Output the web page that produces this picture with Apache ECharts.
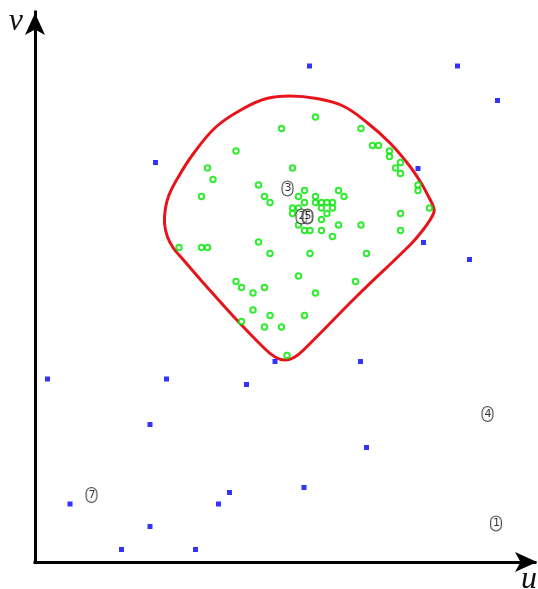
<!DOCTYPE html>
<html>
<head>
<meta charset="utf-8">
<script src="https://cdn.jsdelivr.net/npm/echarts@6/dist/echarts.min.js"></script>
<style>html,body{margin:0;padding:0;background:#fff;}#c{width:538px;height:589px;}</style>
</head>
<body>
<div id="c"></div>
<script>
// Blue square points (u, v)
const bluePoints = [
  [5.49, 9.92], [8.45, 9.92], [9.25, 9.23], [2.41, 7.99], [7.66, 7.87],
  [7.77, 6.39], [8.69, 6.05], [4.80, 4.01], [6.51, 4.01], [0.25, 3.66],
  [2.63, 3.66], [4.23, 3.55], [2.30, 2.75], [6.63, 2.29], [5.38, 1.49],
  [3.89, 1.39], [3.67, 1.16], [0.70, 1.16], [2.30, 0.71], [1.73, 0.25],
  [3.21, 0.25]
];
// Green circle points (u, v)
const greenPoints = [
  [5.61, 8.90], [4.93, 8.67], [6.52, 8.67], [6.75, 8.33], [6.87, 8.33],
  [4.02, 8.22], [7.09, 8.22], [7.09, 8.11], [7.31, 7.99], [3.45, 7.88],
  [5.15, 7.88], [7.21, 7.88], [7.31, 7.77], [3.56, 7.65], [4.47, 7.54],
  [7.66, 7.54], [7.66, 7.43], [5.39, 7.43], [6.07, 7.43], [3.33, 7.31],
  [4.59, 7.31], [5.27, 7.31], [5.61, 7.31], [6.18, 7.31], [4.70, 7.19],
  [5.39, 7.19], [5.61, 7.19], [5.73, 7.19], [5.84, 7.19], [5.95, 7.19],
  [5.15, 7.08], [5.27, 7.08], [5.73, 7.08], [5.95, 7.08], [7.89, 7.08],
  [5.15, 6.97], [5.84, 6.97], [7.31, 6.97], [5.73, 6.85], [5.27, 6.74],
  [6.07, 6.74], [6.52, 6.74], [5.39, 6.63], [5.50, 6.63], [5.73, 6.63],
  [7.31, 6.63], [5.95, 6.51], [2.88, 6.29], [3.33, 6.29], [3.45, 6.29],
  [4.47, 6.40], [4.70, 6.17], [5.50, 6.17], [6.63, 6.17], [5.27, 5.72],
  [4.02, 5.61], [6.41, 5.61], [4.13, 5.49], [4.59, 5.49], [4.36, 5.38],
  [5.61, 5.38], [4.36, 5.04], [4.13, 4.81], [4.70, 4.93], [5.39, 4.93],
  [4.59, 4.70], [4.93, 4.70], [5.04, 4.13]
];
// Closed red boundary curve (u, v), traced clockwise from the top
const boundary = [
  [5.10, 9.32], [5.63, 9.27], [6.16, 9.12], [6.64, 8.79], [7.10, 8.38],
  [7.50, 7.91], [7.74, 7.55], [7.88, 7.29], [7.97, 7.10], [7.98, 7.00],
  [7.90, 6.84], [7.76, 6.64], [7.52, 6.36], [6.43, 5.31], [5.37, 4.24],
  [5.18, 4.09], [5.00, 4.04], [4.80, 4.10], [4.54, 4.32], [3.97, 4.91],
  [3.43, 5.51], [2.97, 6.04], [2.78, 6.26], [2.65, 6.50], [2.59, 6.78],
  [2.61, 7.08], [2.68, 7.34], [2.83, 7.64], [3.17, 8.17], [3.63, 8.71],
  [4.17, 9.07], [4.63, 9.27]
];
// Numbered markers (u, v, label)
const markers = [
  [5.05, 7.47, '3'], [5.33, 6.91, '2'], [5.45, 6.91, '5'],
  [9.05, 2.96, '4'], [9.22, 0.77, '1'], [1.13, 1.34, '7']
];

const chart = echarts.init(document.getElementById('c'), null, {renderer: 'canvas'});
const axisLineStyle = {color: '#000', width: 3, cap: 'square'};
chart.setOption({
  animation: false,
  backgroundColor: '#fff',
  grid: {left: 35, right: 3, top: 12, bottom: 27, containLabel: false, outerBoundsMode: 'none'},
  xAxis: {
    type: 'value', min: 0, max: 10,
    name: 'u', nameLocation: 'end', nameGap: -17,
    nameTextStyle: {fontFamily: 'Liberation Serif', fontStyle: 'italic', fontSize: 32, color: '#111', verticalAlign: 'top', align: 'left', padding: [2, 0, 0, 3]},
    axisLine: {show: true, onZero: false, symbol: ['none', 'arrow'], symbolSize: [15, 22], symbolOffset: [0, 2], lineStyle: axisLineStyle},
    axisTick: {show: false}, axisLabel: {show: false}, splitLine: {show: false}
  },
  yAxis: {
    type: 'value', min: 0, max: 11,
    name: 'v', nameLocation: 'end', nameGap: 6,
    nameTextStyle: {fontFamily: 'Liberation Serif', fontStyle: 'italic', fontSize: 32, color: '#111', align: 'right', verticalAlign: 'top', padding: [0, 12, 0, 0]},
    axisLine: {show: true, onZero: false, symbol: ['none', 'arrow'], symbolSize: [15, 22], symbolOffset: [0, -1], lineStyle: axisLineStyle},
    axisTick: {show: false}, axisLabel: {show: false}, splitLine: {show: false}
  },
  series: [
    {
      type: 'custom', data: boundary, z: 2, silent: true,
      renderItem: function (params, api) {
        if (params.dataIndex !== 0) return null;
        const pts = boundary.map(p => api.coord(p));
        return {
          type: 'polygon',
          shape: {points: pts, smooth: 0.4},
          style: {fill: 'none', stroke: '#e8141b', lineWidth: 3}
        };
      }
    },
    {
      type: 'scatter', data: bluePoints, symbol: 'rect', symbolSize: 5,
      itemStyle: {color: '#0000ff'}, z: 3
    },
    {
      type: 'scatter', data: greenPoints, symbol: 'emptyCircle', symbolSize: 5.5,
      itemStyle: {color: '#00e600', borderColor: '#00e600', borderWidth: 1.6}, z: 4
    },
    {
      type: 'scatter', symbolSize: 0, z: 5,
      data: markers.map(m => ({
        value: m,
        label: m[2] === '5' ? {backgroundColor: 'rgba(255,255,255,0.4)'} : {}
      })),
      label: {
        show: true, position: 'inside', formatter: p => p.value[2],
        fontFamily: 'DejaVu Sans', fontSize: 11, color: '#000',
        backgroundColor: '#fff', borderColor: '#222', borderWidth: 1, borderRadius: 5,
        padding: [2, 1, 1, 2]
      }
    }
  ]
});
</script>
</body>
</html>
